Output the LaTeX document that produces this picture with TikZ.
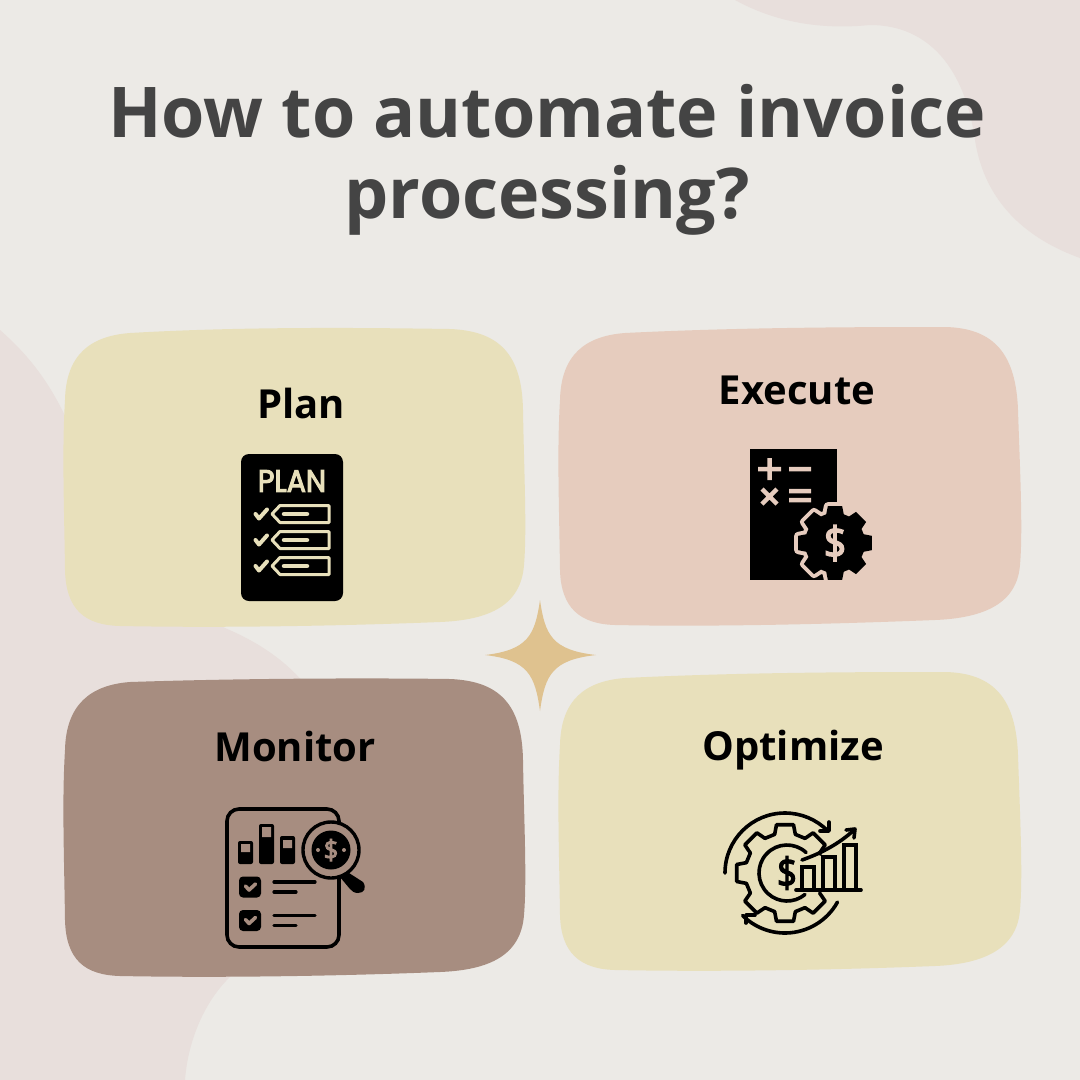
\documentclass[tikz,border=0pt]{standalone}
\usepackage{fontspec}
\setmainfont{Open Sans}
\newfontfamily\iconfont[FakeBold=3.5]{Poppins}
\newfontfamily\dollarfont[FakeBold=3.5]{Open Sans}
\definecolor{bgc}{HTML}{ECEAE6}
\definecolor{blobc}{HTML}{E8DFDC}
\definecolor{yellowc}{HTML}{E8E0BB}
\definecolor{peachc}{HTML}{E6CCBE}
\definecolor{brownc}{HTML}{A78D80}
\definecolor{starc}{HTML}{DFC28F}
\definecolor{titlec}{HTML}{444444}
\newcommand{\fsz}[1]{\fontsize{#1}{#1}\selectfont}
\newcommand{\solidgear}[2]{(-17:#2) \foreach \a in {0,45,...,315}{ -- (\a-17:#2) -- (\a-11:#1) -- (\a+11:#1) -- (\a+17:#2)} -- cycle}
\tikzset{
  titletext/.style={text=titlec,font=\fsz{70}\bfseries,anchor=base,inner sep=0pt},
  cardtext/.style={text=black,font=\fsz{40}\bfseries,inner sep=0pt},
  thick line/.style={line width=3.6pt,line cap=round,line join=round},
}
\begin{document}
\begin{tikzpicture}[x=1pt,y=-1pt]
\useasboundingbox (0,0) rectangle (1080,1080);
\fill[bgc] (0,0) rectangle (1080,1080);
% background blobs
\fill[blobc] (735,0) .. controls (775,22) and (820,30) .. (870,25)
  .. controls (930,25) and (965,70) .. (975,140)
  .. controls (985,205) and (1030,240) .. (1080,258) -- (1080,0) -- cycle;
\fill[blobc] (0,330) .. controls (40,365) and (60,400) .. (80,450)
  .. controls (120,540) and (170,600) .. (225,628)
  .. controls (265,645) and (290,665) .. (310,690)
  -- (300,960) -- (232,975)
  .. controls (205,1000) and (188,1040) .. (185,1080) -- (0,1080) -- cycle;
% star
\fill[starc] (540,600) .. controls (545,635) and (552,650) .. (596,655)
  .. controls (552,660) and (545,675) .. (540,711)
  .. controls (535,675) and (528,660) .. (485,655)
  .. controls (528,650) and (535,635) .. (540,600) -- cycle;
% cards
\fill[yellowc] (130,333) .. controls (250,326) and (380,328) .. (450,329)
  .. controls (500,331) and (522,355) .. (523,410)
  .. controls (524,470) and (527,530) .. (524,565)
  .. controls (521,605) and (490,620) .. (440,622)
  .. controls (340,626) and (220,628) .. (120,626)
  .. controls (85,625) and (66,610) .. (65,570)
  .. controls (64,500) and (62,450) .. (65,400)
  .. controls (66,355) and (90,336) .. (130,333) -- cycle;
\fill[peachc] (625,333) .. controls (745,327) and (875,327) .. (945,327)
  .. controls (995,328) and (1016,355) .. (1018,410)
  .. controls (1020,470) and (1023,530) .. (1020,565)
  .. controls (1017,603) and (985,618) .. (935,620)
  .. controls (835,624) and (715,627) .. (615,625)
  .. controls (580,624) and (561,608) .. (560,570)
  .. controls (559,500) and (557,450) .. (560,400)
  .. controls (561,355) and (585,336) .. (625,333) -- cycle;
\fill[brownc] (130,682) .. controls (250,678) and (380,678) .. (450,679)
  .. controls (500,681) and (522,705) .. (523,760)
  .. controls (524,820) and (527,880) .. (524,915)
  .. controls (521,955) and (490,970) .. (440,972)
  .. controls (340,976) and (220,978) .. (120,976)
  .. controls (85,975) and (66,960) .. (65,920)
  .. controls (64,850) and (62,800) .. (65,750)
  .. controls (66,705) and (90,685) .. (130,682) -- cycle;
\fill[yellowc] (625,678) .. controls (745,672) and (875,672) .. (945,672)
  .. controls (995,673) and (1016,700) .. (1018,755)
  .. controls (1020,815) and (1023,875) .. (1020,910)
  .. controls (1017,948) and (985,964) .. (935,966)
  .. controls (835,970) and (715,972) .. (615,970)
  .. controls (580,969) and (561,953) .. (560,915)
  .. controls (559,845) and (557,795) .. (560,745)
  .. controls (561,700) and (585,681) .. (625,678) -- cycle;
% title
\node[titletext] (title1) at (547,137) {How to automate invoice};
\node[titletext] (title2) at (547,218) {processing?};
% card labels
\node[cardtext] (plan) at (301,403) {Plan};
\node[cardtext] (execute) at (797,390) {Execute};
\node[cardtext] (monitor) at (295,746) {Monitor};
\node[cardtext] (optimize) at (793,750) {Optimize};
% --- Plan icon
\fill[black,rounded corners=8pt] (241,454) rectangle (343,601);
\node[text=yellowc,font=\iconfont\fsz{31},inner sep=0pt,xscale=.92] (plantext) at (292,481) {PLAN};
\foreach \y in {514,540,566}{
  \draw[yellowc,line width=3pt,line join=round] (272,\y) -- (280,\y-8.5) -- (329,\y-8.5) -- (329,\y+8.5) -- (280,\y+8.5) -- cycle;
  \draw[yellowc,line width=4.5pt,line cap=round] (284,\y) -- (307,\y);
  \draw[yellowc,line width=4pt,line cap=round,line join=round] (255.5,\y) -- (259,\y+4.5) -- (267,\y-4.5);
}
% --- Execute icon
\fill[black] (750,449) rectangle (837,580);
\draw[peachc,line width=4.5pt] (758,469) -- (781,469) (769.5,458) -- (769.5,480) (789,469) -- (811,469)
  (789,491) -- (811,491) (789,500) -- (811,500) (762,489) -- (777,504) (777,489) -- (762,504);
\begin{scope}[shift={(835,543)}]
  \draw[peachc,line width=8pt,line join=round] \solidgear{37.5}{30};
  \fill[black] \solidgear{37.5}{30};
  \node[text=peachc,font=\dollarfont\fsz{44},inner sep=0pt,xscale=.9] (dollarexec) at (0,0) {\$};
\end{scope}
% --- Monitor icon
\draw[black,line width=3.6pt,rounded corners=12pt] (227,809) rectangle (339,947);
\fill[black,rounded corners=2pt] (238,841) rectangle (253,864);
\fill[black,rounded corners=2pt] (259,824) rectangle (274,864);
\fill[black,rounded corners=2pt] (280,836) rectangle (295,864);
\fill[brownc] (241,844) rectangle (250,852) (262,827) rectangle (271,837) (283,840) rectangle (292,848);
\fill[black] (340,877) -- (349,873) -- (363,882) .. controls (367,888) and (364,893) .. (358,893) .. controls (354,893) and (352,891) .. (350,889) -- cycle;
\fill[brownc] (331,850) circle[radius=29];
\draw[black,line width=3.4pt] (331,850) circle[radius=28];
\fill[black] (331,850) circle[radius=19.5];
\node[text=brownc,font=\dollarfont\fsz{27},inner sep=0pt,xscale=.95] (dollarmon) at (331,850) {\$};
\fill[brownc] (318,850) circle[radius=2] (344,850) circle[radius=2];
\foreach \y in {887,920.5}{
  \fill[black,rounded corners=4pt] (239,\y-10.5) rectangle (261,\y+10.5);
  \draw[brownc,line width=3.6pt,line cap=round,line join=round] (245.5,\y-1) -- (249,\y+3) -- (255.5,\y-3);
  \draw[black,line width=3.2pt,line cap=round] (274,\y-5) -- (315,\y-5) (274,\y+5) -- (296,\y+5);
}
% --- Optimize icon
\begin{scope}[shift={(785,873)}]
  \draw[thick line] (-28:40) \foreach \a in {-45,-90,-135,-180,-225,-270,-315}{ -- (\a+15:40) -- (\a+10:49) -- (\a-10:49) -- (\a-15:40)} ;
  \draw[thick line] (180:60) arc[start angle=180,end angle=315,radius=60];
  \draw[thick line] (29:60) arc[start angle=29,end angle=135,radius=60];
\end{scope}
\begin{scope}[shift={(787,873)}]
  \draw[thick line] (-47:28) arc[start angle=-47,end angle=-310,radius=28];
  \node[text=black,font=\dollarfont\fsz{41},inner sep=0pt,xscale=.85] (dollaropt) at (0,0) {\$};
\end{scope}
\draw[thick line] (829,822) -- (829,831) -- (820,831);
\draw[thick line] (746,923) -- (746,915) -- (755,915);
\draw[black,line width=3.4pt,line join=miter] (802,889) -- (802,867) -- (814,867) -- (814,889)
  (823,889) -- (823,857) -- (835,857) -- (835,889) (844,889) -- (844,845) -- (856,845) -- (856,889);
\draw[thick line] (796,890) -- (861,890);
\draw[thick line] (802,860) .. controls (822,853) and (840,843) .. (854,830);
\draw[thick line] (846,830) -- (855,829) -- (854,838);
\end{tikzpicture}
\end{document}
